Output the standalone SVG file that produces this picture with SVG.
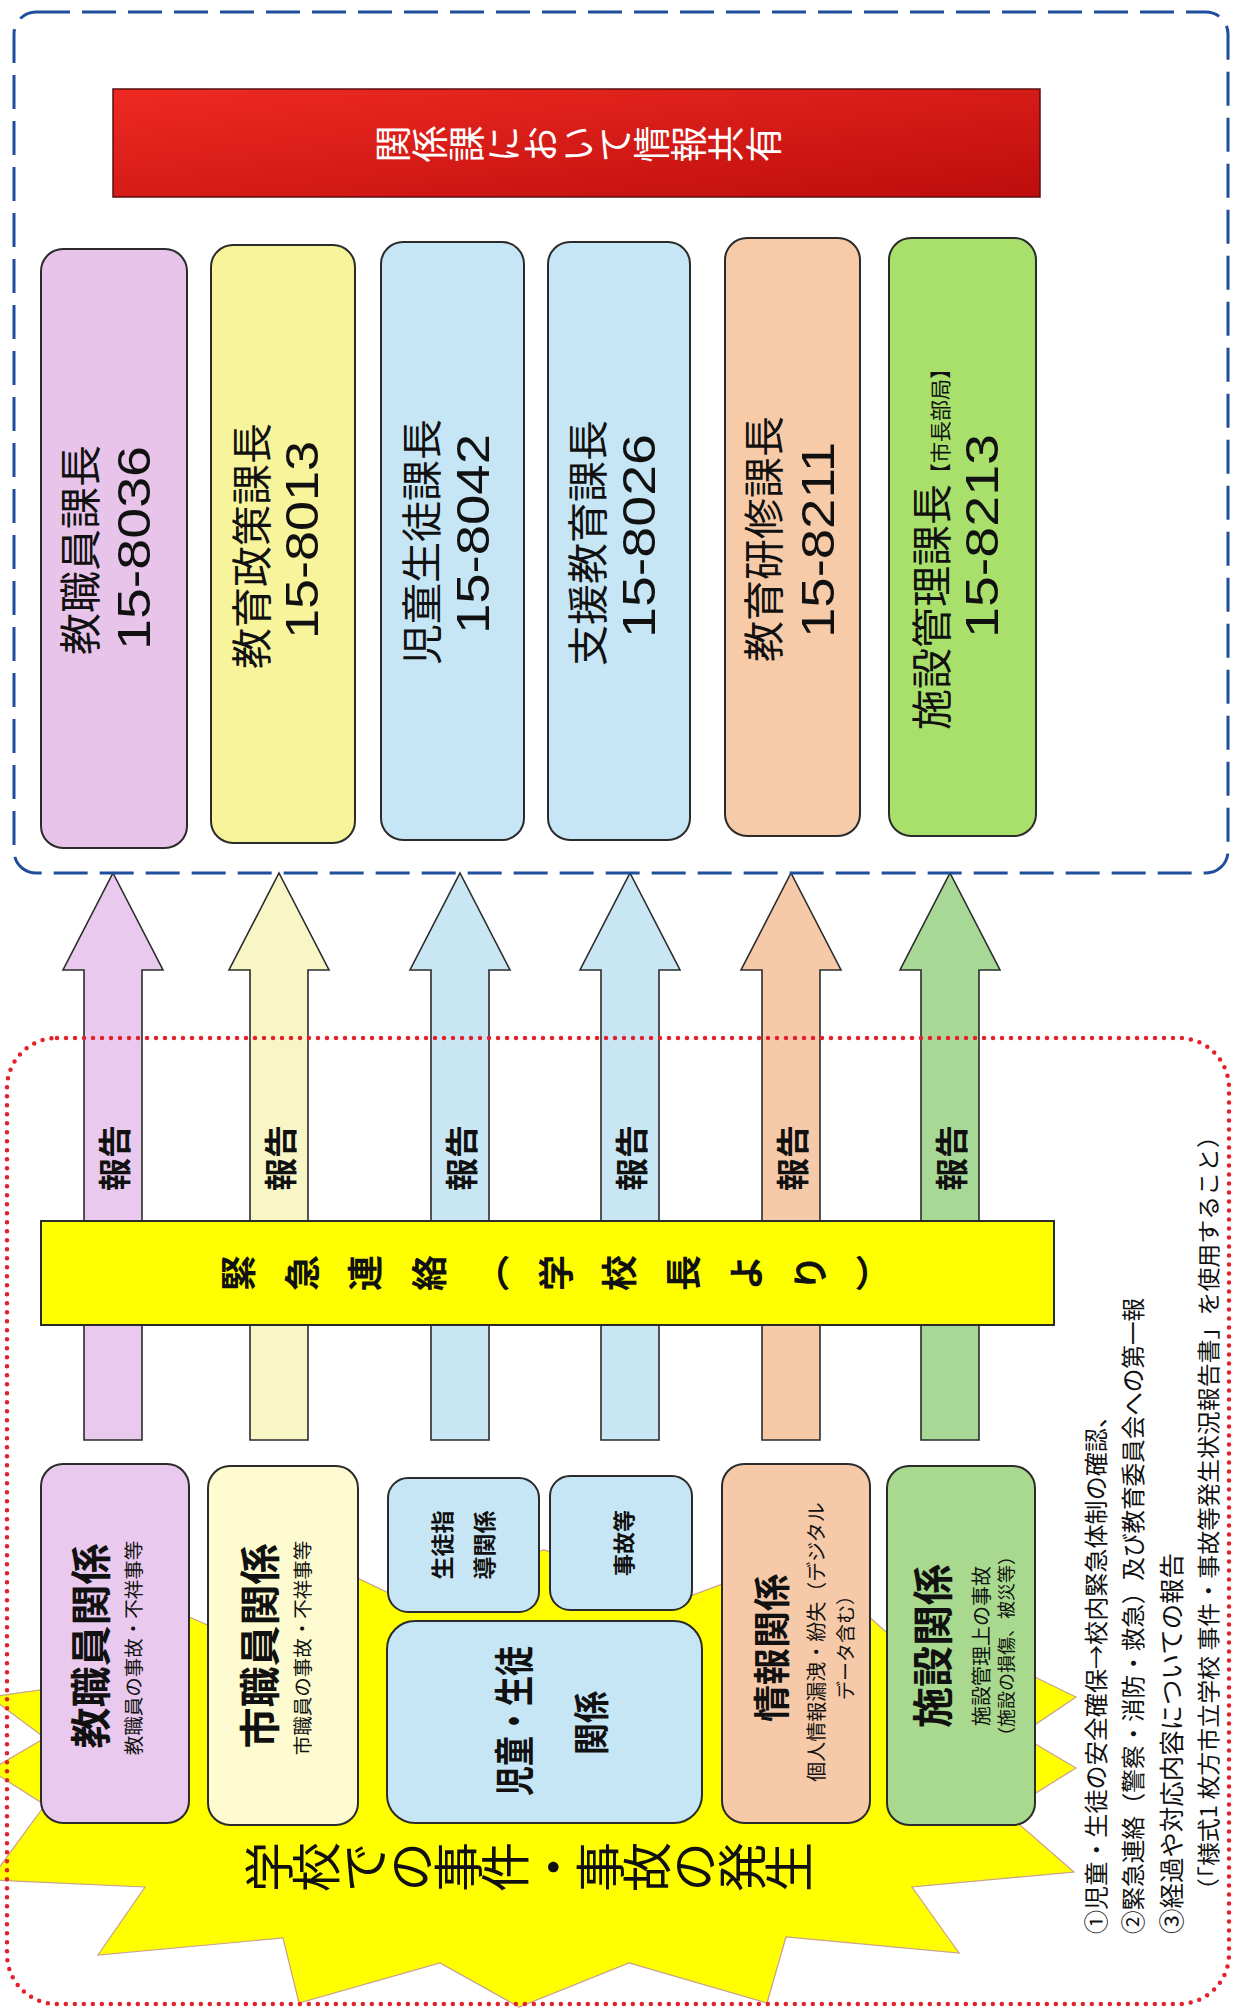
<svg xmlns="http://www.w3.org/2000/svg" width="1233" height="2009" viewBox="0 0 1233 2009">
<defs>
<style>
text { font-family: "Noto Sans CJK JP", "Noto Sans CJK SC", sans-serif; dominant-baseline: central; text-anchor: middle; fill: #111; }
.v { writing-mode: vertical-rl; }
.num { font-family: "Liberation Sans", Arial, "Noto Sans CJK JP", sans-serif; }
.b { font-weight: bold; }
.s { text-anchor: start; }
.box { stroke: #2b2b2b; stroke-width: 2; }
.arrow { stroke: #2b2b2b; stroke-width: 1.6; }
.pink { fill: #e8c4ea; }
.yel { fill: #f8f49c; }
.lyel { fill: #fdfbcf; }
.blue { fill: #c6e6f5; }
.peach { fill: #f8cba8; }
.green { fill: #a9e06c; }
.lgreen { fill: #a9d98e; }
.apink { fill: #e9c9ed; }
.ayel { fill: #f9f6c6; }
.ablue { fill: #c8e6f4; }
.apeach { fill: #f6c9a9; }
.agreen { fill: #a8d896; }
</style>
<linearGradient id="redg" x1="0" y1="0" x2="1" y2="1">
<stop offset="0" stop-color="#ee2a22"/>
<stop offset="1" stop-color="#bd0d0d"/>
</linearGradient>
</defs>
<rect width="1233" height="2009" fill="#ffffff"/>

<!-- starburst -->
<g id="starburst">
<polygon fill="#ffff00" stroke="#c9a08c" stroke-width="1.2" points="-10,1697 90,1683 150,1600 265,1650 320,1560 395,1596 544,1550 690,1596 800,1555 895,1640 965,1580 1010,1665 1076,1697 1020,1735 1076,1768 1005,1812 1074,1872 912,1887 959,1953 786,1937 767,2003 629,1963 519,2007 440,1963 299,2003 283,1938 98,1955 145,1887 -10,1880 45,1805 -10,1770 45,1738"/>
</g>

<!-- connectors -->
<g id="connectors">
<polygon class="arrow apink" points="113,873 163,970 142,970 142,1440 84,1440 84,970 63,970"/>
<polygon class="arrow ayel" points="279,873 329,970 308,970 308,1440 250,1440 250,970 229,970"/>
<polygon class="arrow ablue" points="460,873 510,970 489,970 489,1440 431,1440 431,970 410,970"/>
<polygon class="arrow ablue" points="630,873 680,970 659,970 659,1440 601,1440 601,970 580,970"/>
<polygon class="arrow apeach" points="791,873 841,970 820,970 820,1440 762,1440 762,970 741,970"/>
<polygon class="arrow agreen" points="950,873 1000,970 979,970 979,1440 921,1440 921,970 900,970"/>
<text class="b" font-size="33" transform="translate(113,1158) rotate(-90)">報告</text>
<text class="b" font-size="33" transform="translate(279,1158) rotate(-90)">報告</text>
<text class="b" font-size="33" transform="translate(460,1158) rotate(-90)">報告</text>
<text class="b" font-size="33" transform="translate(630,1158) rotate(-90)">報告</text>
<text class="b" font-size="33" transform="translate(791,1158) rotate(-90)">報告</text>
<text class="b" font-size="33" transform="translate(950,1158) rotate(-90)">報告</text>
</g>

<!-- frames -->
<rect id="frame-top" x="14" y="12" width="1214" height="861" rx="22" fill="none" stroke="#1f4e9c" stroke-width="3" stroke-dasharray="34 12"/>
<rect id="frame-bottom" x="7" y="1038" width="1222" height="966" rx="50" fill="none" stroke="#e5202a" stroke-width="4.5" stroke-linecap="round" stroke-dasharray="0 9"/>

<!-- red bar -->
<g id="share-bar">
<rect x="113" y="89" width="927" height="108" fill="url(#redg)" stroke="#5a1010" stroke-width="1.5"/>
<text class="v" font-size="37" style="fill:#ffffff" textLength="408" lengthAdjust="spacing" transform="translate(578,144) rotate(-90)">関係課において情報共有</text>
</g>

<!-- top boxes -->
<g id="kyoshokuin-kacho">
<rect class="box pink" x="41" y="249" width="146" height="599" rx="22"/>
<text font-size="42" transform="translate(77,550) rotate(-90)">教職員課長</text>
<text class="num" font-size="46" textLength="204" lengthAdjust="spacingAndGlyphs" transform="translate(134,548) rotate(-90)">15-8036</text>
</g>
<g id="kyoiku-seisaku-kacho">
<rect class="box yel" x="211" y="245" width="144" height="598" rx="22"/>
<text font-size="41" transform="translate(249,546) rotate(-90)">教育政策課長</text>
<text class="num" font-size="46" textLength="198" lengthAdjust="spacingAndGlyphs" transform="translate(302,540) rotate(-90)">15-8013</text>
</g>
<g id="jido-seito-kacho">
<rect class="box blue" x="381" y="242" width="143" height="598" rx="22"/>
<text font-size="41" transform="translate(419,542) rotate(-90)">児童生徒課長</text>
<text class="num" font-size="46" textLength="200" lengthAdjust="spacingAndGlyphs" transform="translate(473,534) rotate(-90)">15-8042</text>
</g>
<g id="shien-kyoiku-kacho">
<rect class="box blue" x="548" y="242" width="142" height="598" rx="22"/>
<text font-size="41" transform="translate(585,543) rotate(-90)">支援教育課長</text>
<text class="num" font-size="46" textLength="204" lengthAdjust="spacingAndGlyphs" transform="translate(639,536) rotate(-90)">15-8026</text>
</g>
<g id="kyoiku-kenshu-kacho">
<rect class="box peach" x="725" y="238" width="135" height="598" rx="22"/>
<text font-size="41" transform="translate(761,539) rotate(-90)">教育研修課長</text>
<text class="num" font-size="46" textLength="196" lengthAdjust="spacingAndGlyphs" transform="translate(818,540) rotate(-90)">15-8211</text>
</g>
<g id="shisetsu-kanri-kacho">
<rect class="box green" x="889" y="238" width="147" height="598" rx="22"/>
<text font-size="41" transform="translate(929,544) rotate(-90)">施設管理課長<tspan font-size="21" dy="10">【市長部局】</tspan></text>
<text class="num" font-size="46" textLength="204" lengthAdjust="spacingAndGlyphs" transform="translate(982,536) rotate(-90)">15-8213</text>
</g>

<!-- yellow bar -->
<g id="emergency-bar">
<rect x="41" y="1221" width="1013" height="104" fill="#ffff00" stroke="#2b2b2b" stroke-width="2"/>
<text class="v b" font-size="36" textLength="671" lengthAdjust="spacing" transform="translate(556,1273) rotate(-90)">緊急連絡（学校長より）</text>
</g>

<!-- lower boxes -->
<g id="kyoshokuin-kankei">
<rect class="box apink" x="41" y="1464" width="148" height="359" rx="22"/>
<text class="b" font-size="41" transform="translate(88,1646) rotate(-90)">教職員関係</text>
<text font-size="19.5" transform="translate(132,1648) rotate(-90)">教職員の事故・不祥事等</text>
</g>
<g id="shishokuin-kankei">
<rect class="box lyel" x="208" y="1466" width="150" height="359" rx="22"/>
<text class="b" font-size="41" transform="translate(257,1646) rotate(-90)">市職員関係</text>
<text font-size="19.5" transform="translate(301,1648) rotate(-90)">市職員の事故・不祥事等</text>
</g>
<g id="seito-shido-kankei">
<rect class="box blue" x="388" y="1478" width="151" height="134" rx="20"/>
<text class="b" font-size="23" transform="translate(441,1545) rotate(-90)">生徒指</text>
<text class="b" font-size="23" transform="translate(483,1545) rotate(-90)">導関係</text>
</g>
<g id="jiko-to">
<rect class="box blue" x="550" y="1476" width="142" height="134" rx="20"/>
<text class="b" font-size="22" transform="translate(622,1543) rotate(-90)">事故等</text>
</g>
<g id="jido-seito-kankei">
<rect class="box blue" x="387" y="1621" width="315" height="202" rx="28"/>
<text class="b" font-size="40" textLength="150" lengthAdjust="spacingAndGlyphs" transform="translate(512,1721) rotate(-90)">児童・生徒</text>
<text class="b" font-size="36" textLength="64" lengthAdjust="spacingAndGlyphs" transform="translate(589,1723) rotate(-90)">関係</text>
</g>
<g id="joho-kankei">
<rect class="box apeach" x="722" y="1464" width="148" height="359" rx="22"/>
<text class="b" font-size="37" transform="translate(770,1648) rotate(-90)">情報関係</text>
<text font-size="20" transform="translate(815,1642) rotate(-90)">個人情報漏洩・紛失（デジタル</text>
<text font-size="19" transform="translate(844,1643) rotate(-90)">データ含む）</text>
</g>
<g id="shisetsu-kankei">
<rect class="box lgreen" x="887" y="1466" width="148" height="359" rx="22"/>
<text class="b" font-size="41" transform="translate(930,1646) rotate(-90)">施設関係</text>
<text font-size="20" transform="translate(980,1646) rotate(-90)">施設管理上の事故</text>
<text font-size="18" transform="translate(1005,1646) rotate(-90)">（施設の損傷、被災等）</text>
</g>

<!-- title -->
<g id="title">
<text class="v" font-size="50" textLength="570" lengthAdjust="spacing" transform="translate(529,1867) rotate(-90)">学校での事件・事故の発生</text>
</g>

<!-- notes -->
<g id="notes">
<text class="s" font-size="24" textLength="530" lengthAdjust="spacingAndGlyphs" transform="translate(1094,1934) rotate(-90)">①児童・生徒の安全確保→校内緊急体制の確認、</text>
<text class="s" font-size="24" textLength="636" lengthAdjust="spacingAndGlyphs" transform="translate(1131,1934) rotate(-90)">②緊急連絡（警察・消防・救急）及び教育委員会への第一報</text>
<text class="s" font-size="25" textLength="381" lengthAdjust="spacingAndGlyphs" transform="translate(1170,1934) rotate(-90)">③経過や対応内容についての報告</text>
<text class="s" font-size="23" textLength="778" lengthAdjust="spacingAndGlyphs" transform="translate(1207,1902) rotate(-90)">（「様式1 枚方市立学校 事件・事故等発生状況報告書」を使用すること）</text>
</g>
</svg>
